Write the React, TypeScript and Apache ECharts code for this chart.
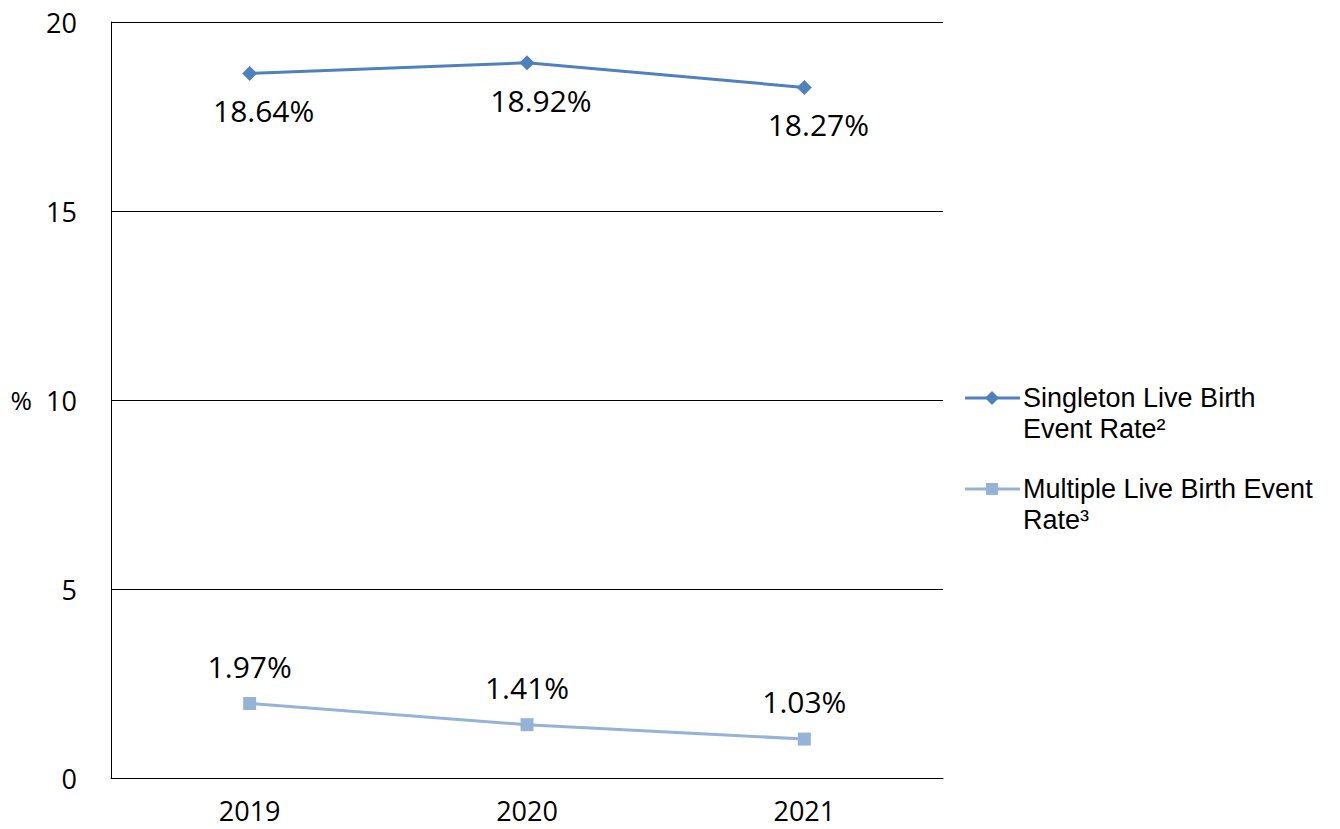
import React, { useEffect, useRef } from "react";
import * as echarts from "echarts";

const years = ["2019", "2020", "2021"];
const singletonRate = [18.64, 18.92, 18.27];
const multipleRate = [1.97, 1.41, 1.03];
const singletonName = ["Singleton Live Birth", "Event Rate²"];
const multipleName = ["Multiple Live Birth Event", "Rate³"];

const FONT = "'Open Sans', 'Liberation Sans', Arial, sans-serif";
const LEGEND_FONT = "'Liberation Sans', Arial, sans-serif";
const C_SINGLE = "#4F81BD";
const C_MULTI = "#95B3D7";

// Legend entry: line sample with its marker, and the name wrapped over two lines
function legendItem(y: number, color: string, symbol: "diamond" | "square", lines: string[]) {
  const marker =
    symbol === "diamond"
      ? { type: "polygon", shape: { points: [[992, y - 7], [999, y], [992, y + 7], [985, y]] }, style: { fill: color } }
      : { type: "rect", shape: { x: 986, y: y - 6, width: 12, height: 12 }, style: { fill: color } };
  return [
    { type: "line", shape: { x1: 965, y1: y, x2: 1020, y2: y }, style: { stroke: color, lineWidth: 3 } },
    marker,
    ...lines.map((t, i) => ({
      type: "text",
      x: 1023,
      y: y + i * 31,
      style: { text: t, font: `27px ${LEGEND_FONT}`, fill: "#000", verticalAlign: "middle" },
    })),
  ];
}

export default function App() {
  const ref = useRef<HTMLDivElement>(null);
  useEffect(() => {
    const chart = echarts.init(ref.current!, null, { renderer: "svg" });
    chart.setOption({
      animation: false,
      backgroundColor: "#fff",
      textStyle: { fontFamily: FONT },
      grid: { left: 111, right: 397, top: 22, bottom: 51 },
      xAxis: {
        type: "category",
        data: years,
        boundaryGap: true,
        axisLine: { lineStyle: { color: "#000", width: 1 } },
        axisTick: { show: false },
        axisLabel: { color: "#000", fontSize: 27, lineHeight: 27, margin: 19, fontFamily: FONT },
      },
      yAxis: {
        type: "value",
        min: 0,
        max: 20,
        interval: 5,
        name: "%",
        nameLocation: "middle",
        nameRotate: 0,
        nameGap: 79,
        nameTextStyle: { color: "#000", fontSize: 26, fontFamily: FONT },
        axisLine: { show: true, lineStyle: { color: "#000", width: 1 } },
        axisTick: { show: false },
        axisLabel: { color: "#000", fontSize: 27, margin: 34, fontFamily: FONT },
        splitLine: { lineStyle: { color: "#000", width: 1 } },
      },
      series: [
        {
          name: singletonName.join(" "),
          type: "line",
          data: singletonRate,
          symbol: "diamond",
          symbolSize: 15,
          itemStyle: { color: C_SINGLE },
          lineStyle: { color: C_SINGLE, width: 3 },
          label: {
            show: true,
            position: "bottom",
            distance: 15,
            offset: [14, 0],
            formatter: (p: any) => `${p.value.toFixed(2)}%`,
            color: "#000",
            fontSize: 30,
            fontFamily: FONT,
          },
        },
        {
          name: multipleName.join(" "),
          type: "line",
          data: multipleRate,
          symbol: "rect",
          symbolSize: 13,
          itemStyle: { color: C_MULTI },
          lineStyle: { color: C_MULTI, width: 3 },
          label: {
            show: true,
            position: "top",
            distance: 16,
            formatter: (p: any) => `${p.value.toFixed(2)}%`,
            color: "#000",
            fontSize: 30,
            fontFamily: FONT,
          },
        },
      ],
      graphic: [
        ...legendItem(398, C_SINGLE, "diamond", singletonName),
        ...legendItem(489, C_MULTI, "square", multipleName),
      ],
    });
    return () => chart.dispose();
  }, []);
  return (
    <div
      ref={ref}
      style={{ position: "fixed", left: 0, top: 0, width: 1340, height: 829, background: "#fff" }}
    />
  );
}
